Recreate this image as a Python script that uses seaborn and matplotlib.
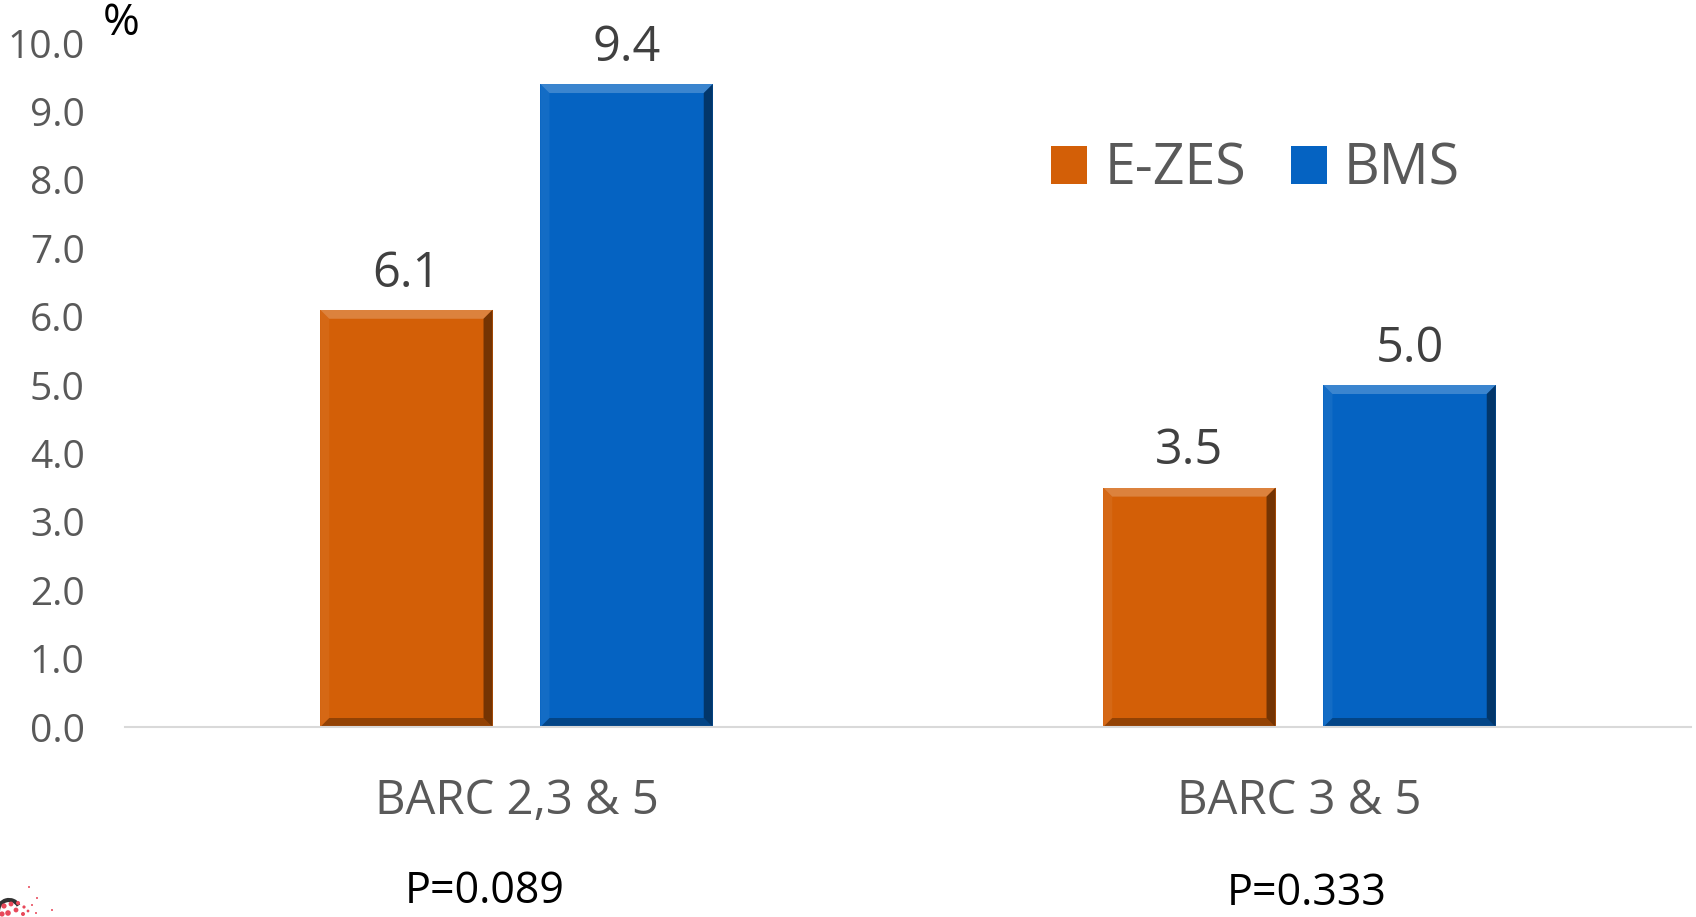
import matplotlib
matplotlib.use("Agg")
import matplotlib.pyplot as plt
import seaborn as sns
import pandas as pd
from matplotlib.patches import Polygon, Circle, Arc

categories = ["BARC 2,3 & 5", "BARC 3 & 5"]
series_names = ["E-ZES", "BMS"]
ezes_values = [6.1, 3.5]
bms_values = [9.4, 5.0]
p_values = ["P=0.089", "P=0.333"]
y_ticks = [0, 1, 2, 3, 4, 5, 6, 7, 8, 9, 10]

colors = {"E-ZES": "#D35F07", "BMS": "#0563C2"}

df = pd.DataFrame({
    "category": categories * 2,
    "series": [series_names[0]] * 2 + [series_names[1]] * 2,
    "value": ezes_values + bms_values,
})

sns.set_theme(style="white")
plt.rcParams["font.family"] = ["Open Sans", "DejaVu Sans"]

W, H = 1696, 917
fig = plt.figure(figsize=(W / 100, H / 100), dpi=100)
ax = fig.add_axes([125 / W, 1 - 727 / H, (1691 - 125) / W, (727 - 43) / H])

sns.barplot(data=df, x="category", y="value", hue="series", palette=colors,
            width=0.5625, dodge=True, ax=ax, legend=False, saturation=1)

bar_w = 0.22
for p in ax.patches:
    cx = p.get_x() + p.get_width() / 2
    p.set_width(bar_w)
    p.set_x(cx - bar_w / 2)
    p.set_edgecolor("none")

ax.set_xlim(-0.5, 1.5)
ax.set_ylim(0, 10)


# bevel shading on each bar, sized in pixels
def bevel(patch, ax, size=9):
    x0, y0 = ax.transData.transform((patch.get_x(), 0))
    x1, y1 = ax.transData.transform((patch.get_x() + patch.get_width(), patch.get_height()))
    inv = ax.transData.inverted()

    def d(pts):
        return [inv.transform(pt) for pt in pts]
    top = d([(x0, y1), (x1, y1), (x1 - size, y1 - size), (x0 + size, y1 - size)])
    right = d([(x1, y1), (x1, y0), (x1 - size, y0 + size), (x1 - size, y1 - size)])
    bottom = d([(x0, y0), (x1, y0), (x1 - size, y0 + size), (x0 + size, y0 + size)])
    left = d([(x0, y0), (x0, y1), (x0 + size, y1 - size), (x0 + size, y0 + size)])
    ax.add_patch(Polygon(top, closed=True, facecolor="white", alpha=0.22, lw=0))
    ax.add_patch(Polygon(left, closed=True, facecolor="white", alpha=0.06, lw=0))
    ax.add_patch(Polygon(right, closed=True, facecolor="black", alpha=0.45, lw=0))
    ax.add_patch(Polygon(bottom, closed=True, facecolor="black", alpha=0.3, lw=0))


bars = list(ax.patches)
for p in bars:
    bevel(p, ax)

for p in bars:
    h = p.get_height()
    ax.annotate(f"{h:.1f}", (p.get_x() + p.get_width() / 2, h),
                xytext=(0, 8), textcoords="offset points",
                ha="center", va="bottom", fontsize=35, color="#404040")

ax.set_yticks(y_ticks)
ax.set_yticklabels([f"{v:.1f}" for v in y_ticks], fontsize=28, color="#595959")
ax.tick_params(axis="y", length=0, pad=29)
ax.tick_params(axis="x", length=0, pad=36, labelsize=34, labelcolor="#595959")
ax.set_xlabel("")
ax.set_ylabel("")
for s in ["top", "right", "left"]:
    ax.spines[s].set_visible(False)
ax.spines["bottom"].set_color("#D9D9D9")
ax.spines["bottom"].set_linewidth(1.5)

fig.text(121 / W, 1 - 24 / H, "%", fontsize=32, color="black", ha="center", va="center")

# p-values under the groups
fig.text(485 / W, 1 - 903 / H, p_values[0], fontsize=31, color="black", ha="center", va="baseline")
fig.text(1307 / W, 1 - 905 / H, p_values[1], fontsize=31, color="black", ha="center", va="baseline")

# legend
handles = [plt.Rectangle((0, 0), 1, 1, facecolor=colors[n], edgecolor="none") for n in series_names]
fig.legend(handles, series_names, loc="center left", bbox_to_anchor=(1051 / W, 1 - 170 / H),
           ncol=2, frameon=False, fontsize=40, labelcolor="#595959",
           borderaxespad=0, borderpad=0,
           handlelength=0.65, handleheight=0.65, handletextpad=0.31, columnspacing=0.8)

# corner logo fragment
logo = fig.add_axes([0, 0, 60 / W, 47 / H])
logo.set_xlim(0, 60)
logo.set_ylim(47, 0)
logo.axis("off")
logo.add_patch(Arc((9, 41), 22, 22, theta1=180, theta2=330, color="#333333", lw=3))
dots = [(29, 17, 1.0), (37, 28, 1.0), (32, 35, 1.0), (52, 40, 1.0), (36, 43, 1.0),
        (4, 36, 2.6), (11, 34, 2.4), (18, 33, 2.0), (24, 37, 1.6), (8, 43, 2.8),
        (16, 40, 2.4), (23, 44, 2.0), (28, 41, 1.4), (2, 44, 2.6)]
for x, y, r in dots:
    logo.add_patch(Circle((x, y), r, facecolor="#E8485A", edgecolor="none"))

fig.savefig("out.png", dpi=100)
